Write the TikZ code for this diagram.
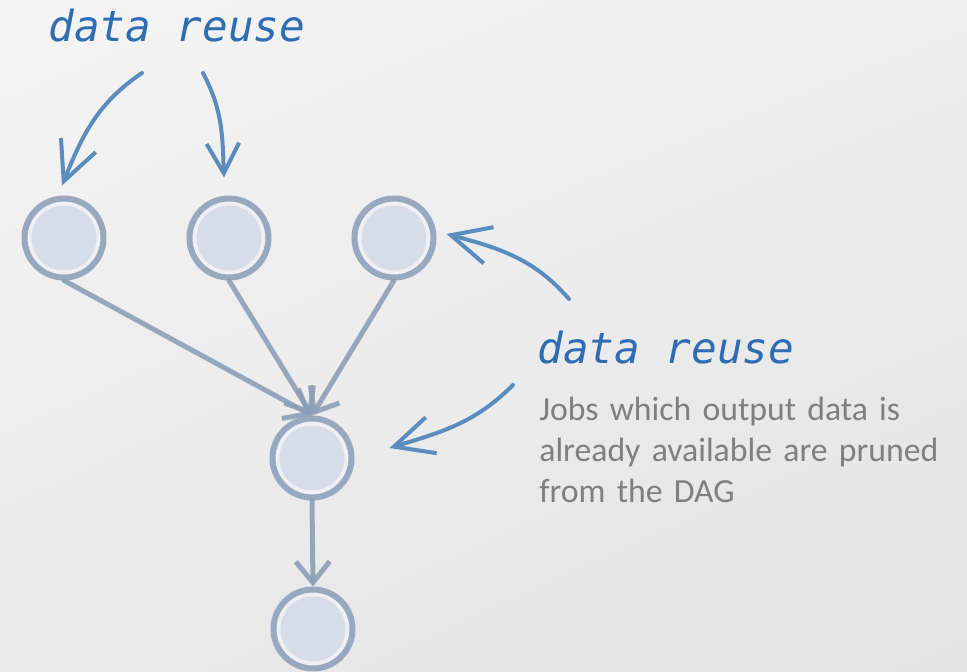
\documentclass[tikz,border=0pt]{standalone}
\usepackage{fontspec}
\setmonofont{DejaVu Sans Mono}
\newfontfamily\notefont{Carlito}
\usetikzlibrary{arrows.meta,shadings}

\definecolor{ringgray}{HTML}{98A8BE}
\definecolor{edgegray}{HTML}{8C9FB8}
\definecolor{jobfill}{HTML}{D5DDE8}
\definecolor{gapwhite}{HTML}{EEF0F3}
\definecolor{reuseblue}{HTML}{5A8CBE}
\definecolor{labelblue}{HTML}{2E6DB4}
\definecolor{notegray}{HTML}{7F7F7F}
\definecolor{bgtl}{HTML}{F4F4F4}
\definecolor{bgtr}{HTML}{EEEEEE}
\definecolor{bgbl}{HTML}{EAEAEA}
\definecolor{bgbr}{HTML}{E3E3E3}

\tikzset{
  job/.style={circle, draw=ringgray, line width=0.12cm, fill=gapwhite,
    minimum size=1.58cm, inner sep=0pt,
    path picture={\fill[jobfill] (path picture bounding box.center) circle (0.65cm);}},
  edge/.style={draw=edgegray, draw opacity=0.9, line width=0.1cm, line cap=round,
    -{Straight Barb[length=0.42cm,width=0.68cm]}},
  reuse/.style={draw=reuseblue, line width=0.08cm, line cap=round,
    -{Straight Barb[length=0.78cm,width=0.75cm]}},
  reuselabel/.style={text=labelblue, inner sep=0pt, anchor=base west,
    font=\fontsize{24.3}{28}\selectfont\ttfamily\itshape},
  notetext/.style={text=notegray, inner sep=0pt, anchor=base west, align=left,
    text width=9.5cm, font=\notefont\fontsize{19.2}{23.6}\selectfont},
}

\begin{document}
\begin{tikzpicture}[x=0.02cm, y=0.02cm]

% background
\shade[upper left=bgtl, upper right=bgtr, lower left=bgbl, lower right=bgbr]
  (0,0) rectangle (967,-672);
\useasboundingbox (0,0) rectangle (967,-672);

% jobs
\node[job] (c1) at (64,-238) {};
\node[job] (c2) at (229,-238) {};
\node[job] (c3) at (394,-238) {};
\node[job] (c4) at (312,-458) {};
\node[job] (c5) at (313,-629) {};

% dependencies
\foreach \n in {c1,c2,c3}
  \draw[edge] (\n.south) -- (c4.north);
\draw[edge] (c4.south) -- (c5.north);

% labels
\node[reuselabel] (reusetop) at (48,-42) {data reuse};
\node[reuselabel] (reuseright) at (537,-363) {data reuse};
\node[notetext] (note) at (539,-420) {Jobs which output data is\\already available are pruned\\from the DAG};

% reuse arrows
\coordinate (s1) at (142,-73);
\coordinate (s2) at (203,-73);
\coordinate (s3) at (569,-299);
\coordinate (s4) at (513,-385);
\draw[reuse] (s1) to[out=214,in=68] ([shift={(-2,10)}]c1.north);
\draw[reuse, -{Straight Barb[length=0.6cm,width=0.65cm]}] (s2) to[out=-62,in=92] ([shift={(-5,18)}]c2.north);
\draw[reuse] (s3) to[out=131,in=-15] ([shift={(10,4)}]c3.east);
\draw[reuse] (s4) to[out=225,in=17] ([shift={(35,10)}]c4.east);

\end{tikzpicture}
\end{document}
